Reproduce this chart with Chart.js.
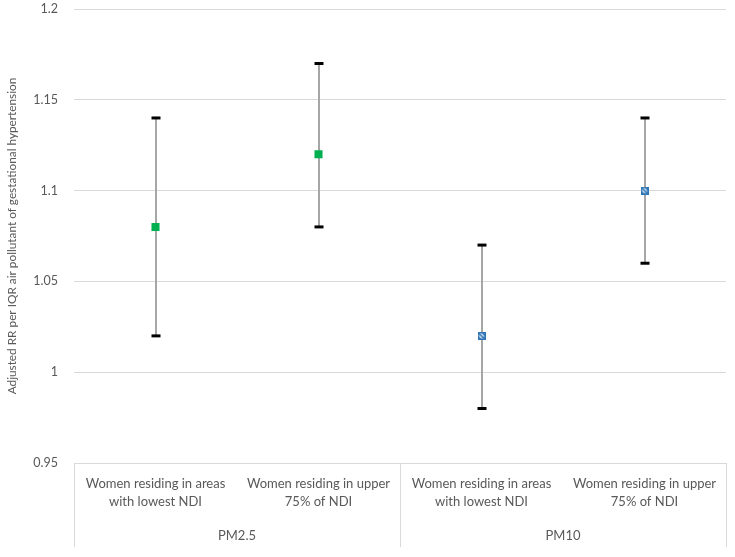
<!DOCTYPE html>
<html>
<head>
<meta charset="utf-8">
<script src="https://cdn.jsdelivr.net/npm/chart.js@4.4.0/dist/chart.umd.min.js"></script>
<style>
  html, body { margin: 0; padding: 0; background: #fff; }
  #wrap { width: 735px; height: 557px; }
</style>
</head>
<body>
<div id="wrap"><canvas id="grafico" width="735" height="557"></canvas></div>
<script>
// datos
const categorias = [
  ["Women residing in areas", "with lowest NDI"],
  ["Women residing in upper", "75% of NDI"],
  ["Women residing in areas", "with lowest NDI"],
  ["Women residing in upper", "75% of NDI"]
];
const grupos = ["PM2.5", "PM10"];
const pm25 = [1.08, 1.12, null, null];
const pm10 = [null, null, 1.02, 1.10];
const limiteInf = [1.02, 1.08, 0.98, 1.06];
const limiteSup = [1.14, 1.17, 1.07, 1.14];
const yTicks = [0.95, 1, 1.05, 1.1, 1.15, 1.2];

const fuente = "Lato, 'Open Sans', sans-serif";
const gris = "#595959";
const lineaGris = "#d9d9d9";

// marcador azul con trama diagonal
function marcadorAzul() {
  const c = document.createElement("canvas");
  c.width = 8; c.height = 8;
  const g = c.getContext("2d");
  g.fillStyle = "#ffffff";
  g.fillRect(0, 0, 8, 8);
  g.strokeStyle = "#2e75b6";
  g.lineWidth = 1.6;
  for (let k = -8; k <= 8; k += 4) {
    g.beginPath();
    g.moveTo(k, 0);
    g.lineTo(k + 8, 8);
    g.stroke();
  }
  g.lineWidth = 1.5;
  g.strokeRect(0.75, 0.75, 6.5, 6.5);
  return c;
}

const barrasError = {
  id: "barrasError",
  beforeDatasetsDraw(chart) {
    const ctx = chart.ctx;
    const x = chart.scales.x, y = chart.scales.y;
    ctx.save();
    limiteInf.forEach(function (lo, i) {
      const px = Math.round(x.getPixelForValue(i));
      const yLo = y.getPixelForValue(lo);
      const yHi = y.getPixelForValue(limiteSup[i]);
      ctx.strokeStyle = "#a6a6a6";
      ctx.lineWidth = 2;
      ctx.beginPath();
      ctx.moveTo(px, yHi);
      ctx.lineTo(px, yLo);
      ctx.stroke();
      ctx.strokeStyle = "#000000";
      ctx.lineWidth = 3;
      [yLo, yHi].forEach(function (py) {
        ctx.beginPath();
        ctx.moveTo(px - 4.5, py);
        ctx.lineTo(px + 4.5, py);
        ctx.stroke();
      });
    });
    ctx.restore();
  }
};

// eje x de varios niveles
const ejeCategorias = {
  id: "ejeCategorias",
  afterDraw(chart) {
    const ctx = chart.ctx;
    const area = chart.chartArea;
    const x = chart.scales.x;
    const fondo = area.bottom + 84;
    const medio = (x.getPixelForValue(1) + x.getPixelForValue(2)) / 2;
    ctx.save();
    ctx.strokeStyle = lineaGris;
    ctx.lineWidth = 1;
    [area.left, medio, area.right].forEach(function (lx) {
      const xx = Math.round(lx) + 0.5;
      ctx.beginPath();
      ctx.moveTo(xx, area.bottom);
      ctx.lineTo(xx, fondo);
      ctx.stroke();
    });
    ctx.fillStyle = gris;
    ctx.font = "13px " + fuente;
    ctx.textAlign = "center";
    ctx.textBaseline = "middle";
    categorias.forEach(function (lineas, i) {
      const cx = x.getPixelForValue(i);
      lineas.forEach(function (t, j) {
        ctx.fillText(t, cx, area.bottom + 21 + j * 18);
      });
    });
    ctx.fillText(grupos[0], (area.left + medio) / 2, area.bottom + 73);
    ctx.fillText(grupos[1], (medio + area.right) / 2, area.bottom + 73);
    ctx.restore();
  }
};

const ctx = document.getElementById("grafico").getContext("2d");
new Chart(ctx, {
  type: "line",
  data: {
    labels: categorias.map(function (l) { return l.join(" "); }),
    datasets: [
      {
        label: "PM2.5",
        data: pm25,
        showLine: false,
        pointStyle: "rect",
        pointRadius: 5.7,
        pointHoverRadius: 5.7,
        pointBackgroundColor: "#00b050",
        pointBorderColor: "#00b050",
        pointBorderWidth: 0
      },
      {
        label: "PM10",
        data: pm10,
        showLine: false,
        pointStyle: marcadorAzul(),
        pointRadius: 4,
        pointHoverRadius: 4
      }
    ]
  },
  options: {
    responsive: false,
    animation: false,
    events: [],
    layout: { padding: { top: 9, bottom: 94, left: 0, right: 9 } },
    plugins: {
      legend: { display: false },
      tooltip: { enabled: false }
    },
    scales: {
      x: {
        display: false,
        offset: true
      },
      y: {
        min: 0.95,
        max: 1.2,
        afterFit(scale) {
          scale.width = 74;
          scale.paddingTop = 0;
          scale.paddingBottom = 0;
        },
        afterBuildTicks(scale) { scale.ticks = yTicks.map(function (v) { return { value: v }; }); },
        ticks: {
          padding: 16,
          color: gris,
          font: { family: fuente, size: 12.5 },
          callback: function (v) { return String(Math.round(v * 100) / 100); }
        },
        grid: { color: lineaGris, drawTicks: false },
        border: { display: false },
        title: {
          display: true,
          text: "Adjusted RR per IQR air pollutant of gestational hypertension",
          color: gris,
          font: { family: fuente, size: 11.8 },
          padding: { top: 5, bottom: 0 }
        }
      }
    }
  },
  plugins: [barrasError, ejeCategorias]
});
</script>
</body>
</html>
